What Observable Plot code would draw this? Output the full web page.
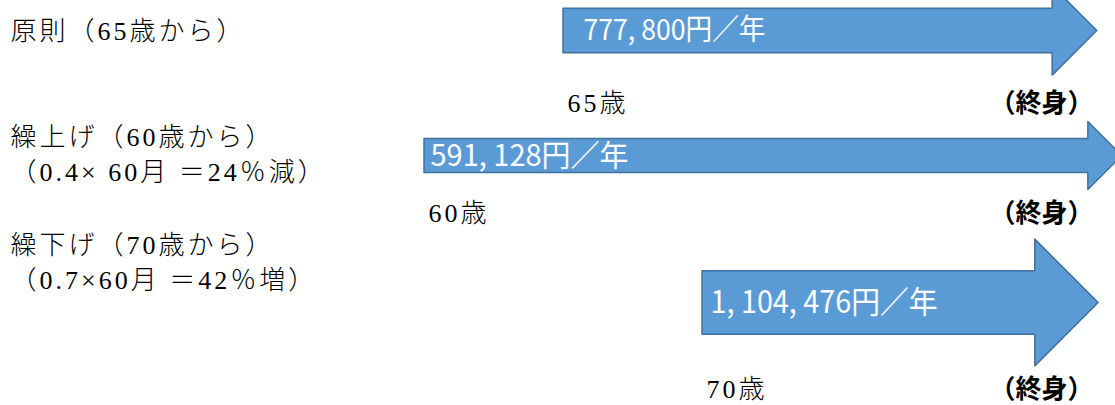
<!DOCTYPE html>
<html>
<head>
<meta charset="utf-8">
<script src="https://cdn.jsdelivr.net/npm/d3@7"></script>
<script src="https://cdn.jsdelivr.net/npm/@observablehq/plot@0.6"></script>
<style>
  html, body { margin: 0; padding: 0; background: #fff; overflow: hidden; }
  svg { overflow: hidden; }
  .serif-label text { letter-spacing: 3px; }
</style>
</head>
<body>
<div id="chart"></div>
<script>
// ---- data ----
const schemeLabels = [
  ["原則（65歳から）"],
  ["繰上げ（60歳から）", "（0.4× 60月 ＝24％減）"],
  ["繰下げ（70歳から）", "（0.7×60月 ＝42％増）"]
];
const startAges = [65, 60, 70];
const startAgeLabels = ["65歳", "60歳", "70歳"];
const endLabel = "（終身）";
const amounts = [777800, 591128, 1104476];
const amountLabels = ["777, 800円／年", "591, 128円／年", "1, 104, 476円／年"];
const tipAges = [84.2, 85.1, 84.25];

// ---- layout ----
const W = 1115, H = 405;
const pxPerYear = 27.8;
const x0px = 424;
const k = 5.737e-5;               // px of arrow body height per yen
const rowCenter = [30.5, 155.5, 302.5];
const labelY = [[31], [137, 172], [245, 280]];
const ageLabelY = [103, 213, 389];
const amountDx = [20, 6, 8];
const amountSize = [29, 30, 31];
const amountWidth = [182, 198, 227];

// arrow outlines (age on x, px-like units on y)
const arrowPts = [];
startAges.forEach((a, i) => {
  const c = rowCenter[i];
  const b = amounts[i] * k / 2;   // body half height
  const h = b * 2;                // head half height
  const headLen = h / pxPerYear;  // 45° head, in years
  const tip = tipAges[i];
  const base = tip - headLen;
  arrowPts.push(
    {id: i, x: a, y1: c - b, y2: c + b},
    {id: i, x: base, y1: c - b, y2: c + b},
    {id: i, x: base, y1: c - h, y2: c + h},
    {id: i, x: tip, y1: c, y2: c}
  );
});

const leftRows = [];
schemeLabels.forEach((lines, i) => lines.forEach((t, j) => leftRows.push({t, y: labelY[i][j]})));
const ageRows = startAges.map((a, i) => ({a, t: startAgeLabels[i], y: ageLabelY[i]}));

const serif = "'Liberation Serif', 'Noto Sans CJK JP', serif";
const gothic = "'Noto Sans CJK JP', sans-serif";

const marks = [
  Plot.areaY(arrowPts, {x: "x", y1: "y1", y2: "y2", z: "id", curve: "linear",
    fill: "#5B9BD5", stroke: "#41719C", strokeWidth: 1.5, clip: "frame"}),
  Plot.text(leftRows, {frameAnchor: "left", y: "y", text: "t", dx: 10, textAnchor: "start",
    fontSize: 26, fontWeight: 300, fontFamily: serif, fill: "#000", className: "serif-label"}),
  Plot.text(ageRows, {x: "a", y: "y", text: "t", dx: 4, textAnchor: "start",
    fontSize: 26, fontWeight: 300, fontFamily: serif, fill: "#000", className: "serif-label"}),
  Plot.text(ageRows, {frameAnchor: "right", y: "y", text: () => endLabel, dx: -22, textAnchor: "end",
    fontSize: 26, fontWeight: "bold", fontFamily: gothic, fill: "#000"})
];
startAges.forEach((a, i) => {
  marks.push(Plot.text([{a, y: rowCenter[i], t: amountLabels[i]}], {x: "a", y: "y", text: "t",
    dx: amountDx[i], textAnchor: "start", fontSize: amountSize[i], fontFamily: gothic,
    fill: "#fff", className: "amount-" + i}));
});

const chart = Plot.plot({
  width: W, height: H, margin: 0,
  x: {domain: [60, 85], range: [x0px, x0px + 25 * pxPerYear], axis: null},
  y: {domain: [0, H], range: [0, H], axis: null},
  style: {background: "#fff"},
  marks
});
startAges.forEach((a, i) => {
  chart.querySelectorAll(".amount-" + i + " text").forEach(t => {
    t.setAttribute("textLength", amountWidth[i]);
    t.setAttribute("lengthAdjust", "spacingAndGlyphs");
  });
});
document.getElementById("chart").appendChild(chart);
</script>
</body>
</html>
